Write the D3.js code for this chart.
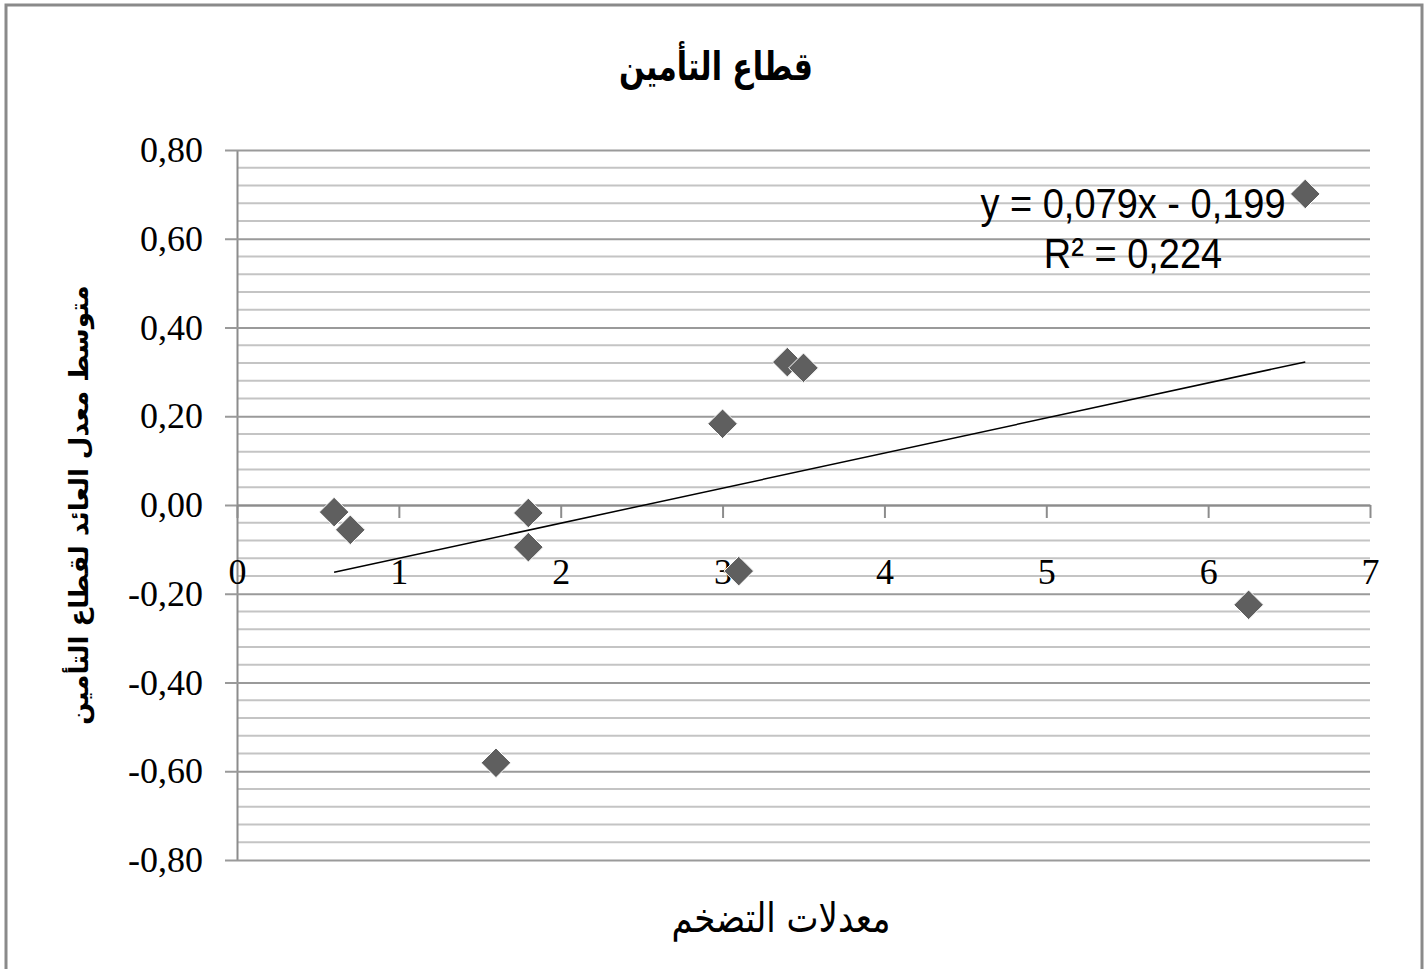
<!DOCTYPE html>
<html>
<head>
<meta charset="utf-8">
<script src="https://cdn.jsdelivr.net/npm/d3@7"></script>
<style>
  body { margin: 0; background: #fff; }
  svg { display: block; }
</style>
</head>
<body>
<div id="chart"></div>
<script>
// inflation rate (x) vs average return of the insurance sector (y)
const inflation = [0.6, 0.7, 1.8, 1.8, 1.6, 3.0, 3.1, 3.4, 3.5, 6.25, 6.6];
const avgReturn = [-0.016, -0.056, -0.018, -0.095, -0.581, 0.183, -0.149, 0.322, 0.309, -0.225, 0.701];

const xTicks = [0, 1, 2, 3, 4, 5, 6, 7];
const yTicks = [-0.8, -0.6, -0.4, -0.2, 0, 0.2, 0.4, 0.6, 0.8];

// linear trendline shown on the chart
const trendSlope = 0.079;
const trendIntercept = -0.199;
const trendLabels = ["y = 0,079x - 0,199", "R² = 0,224"];

const chartTitle = "قطاع التأمين";
const xTitle = "معدلات التضخم";
const yTitle = "متوسط معدل العائد لقطاع التأمين";

const width = 1427;
const height = 969;
const plot = { left: 237, right: 1370, top: 150, bottom: 860 };

const svg = d3.select("#chart").append("svg")
	.attr("width", width)
	.attr("height", height);

// outer chart border
svg.append("rect")
	.attr("x", 6).attr("y", 5)
	.attr("width", 1416).attr("height", 975)
	.attr("fill", "#fff")
	.attr("stroke", "#8a8a8a")
	.attr("stroke-width", 3);

const x = d3.scaleLinear().domain([0, 7]).range([plot.left, plot.right]);
const y = d3.scaleLinear().domain([-0.8, 0.8]).range([plot.bottom, plot.top]);

// minor gridlines every 0.04
const minor = d3.range(-20, 21).map(i => i * 0.04).filter(v => Math.abs(Math.round(v * 5) - v * 5) > 1e-6);
svg.append("g").selectAll("line").data(minor).enter()
	.append("line")
	.attr("x1", plot.left).attr("x2", plot.right)
	.attr("y1", d => y(d)).attr("y2", d => y(d))
	.attr("stroke", "#c4c4c4")
	.attr("stroke-width", 2);

// y axis with major gridlines
const fmt = d => d3.format(".2f")(d).replace(".", ",").replace("−", "-");
const yAxis = svg.append("g")
	.attr("transform", `translate(${plot.left},0)`)
	.call(d3.axisLeft(y)
		.tickValues(yTicks)
		.tickSize(-(plot.right - plot.left))
		.tickSizeOuter(0)
		.tickPadding(34)
		.tickFormat(fmt));
yAxis.select(".domain").attr("stroke", "#8c8c8c").attr("stroke-width", 2);
yAxis.selectAll(".tick line")
	.attr("x1", -12)
	.attr("stroke", "#9a9a9a")
	.attr("stroke-width", 2);
yAxis.selectAll(".tick text")
	.attr("font-family", "'Liberation Serif', 'Times New Roman', serif")
	.attr("font-size", 36)
	.attr("fill", "#000");

// x axis on the zero line
const xAxis = svg.append("g")
	.attr("transform", `translate(0,${y(0)})`)
	.call(d3.axisBottom(x)
		.tickValues(xTicks)
		.tickSize(13)
		.tickSizeOuter(0)
		.tickPadding(40)
		.tickFormat(d3.format("d")));
xAxis.select(".domain").attr("stroke", "#8c8c8c").attr("stroke-width", 2);
xAxis.selectAll(".tick line").attr("stroke", "#8c8c8c").attr("stroke-width", 2);
xAxis.selectAll(".tick text")
	.attr("font-family", "'Liberation Serif', 'Times New Roman', serif")
	.attr("font-size", 36)
	.attr("fill", "#000");

// trendline across the data range
const xExt = d3.extent(inflation);
svg.append("line")
	.attr("x1", x(xExt[0])).attr("y1", y(trendSlope * xExt[0] + trendIntercept))
	.attr("x2", x(xExt[1])).attr("y2", y(trendSlope * xExt[1] + trendIntercept))
	.attr("stroke", "#000")
	.attr("stroke-width", 1.5);

// diamond markers
const points = inflation.map((v, i) => ({ x: v, y: avgReturn[i] }));
svg.append("g").selectAll("path").data(points).enter()
	.append("path")
	.attr("d", d3.symbol().type(d3.symbolDiamond2).size(560))
	.attr("transform", d => `translate(${x(d.x)},${y(d.y)})`)
	.attr("fill", "#5f5f5f")
	.attr("stroke", "#fff")
	.attr("stroke-width", 1);

// trendline equation
svg.append("g").selectAll("text").data(trendLabels).enter()
	.append("text")
	.attr("transform", (d, i) => `translate(1133,${218 + i * 50}) scale(1,1.12)`)
	.attr("text-anchor", "middle")
	.attr("font-family", "'Liberation Sans', Arial, sans-serif")
	.attr("font-size", 38)
	.attr("fill", "#000")
	.text(d => d);

// titles
svg.append("text")
	.attr("transform", "translate(716,80) scale(1,1.3)")
	.attr("text-anchor", "middle")
	.attr("font-family", "'DejaVu Sans', sans-serif")
	.attr("font-weight", "bold")
	.attr("font-size", 30)
	.attr("direction", "rtl")
	.text(chartTitle);

svg.append("text")
	.attr("transform", "translate(781,932) scale(1,1.2)")
	.attr("text-anchor", "middle")
	.attr("font-family", "'DejaVu Sans', sans-serif")
	.attr("font-size", 34)
	.attr("direction", "rtl")
	.text(xTitle);

svg.append("text")
	.attr("transform", "translate(88,505) rotate(-90)")
	.attr("text-anchor", "middle")
	.attr("font-family", "'DejaVu Sans', sans-serif")
	.attr("font-weight", "bold")
	.attr("font-size", 26)
	.attr("direction", "rtl")
	.text(yTitle);
</script>
</body>
</html>
